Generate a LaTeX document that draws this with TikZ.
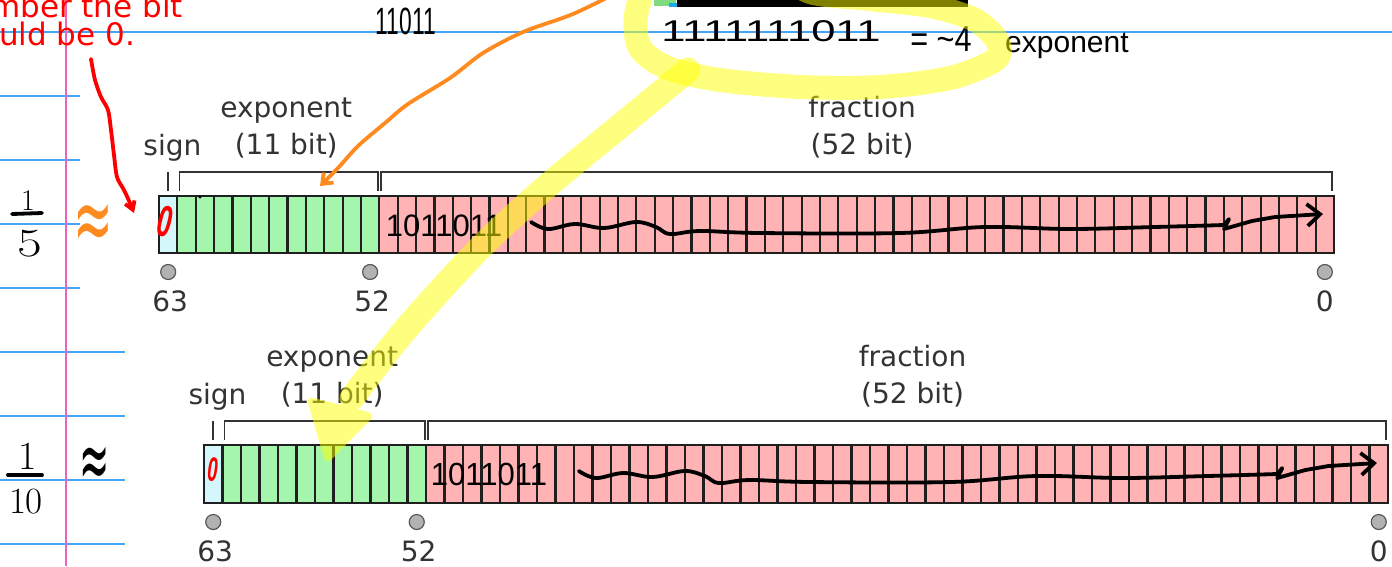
\documentclass[tikz,border=0pt]{standalone}
\usepackage{fontspec}
\newfontfamily\dv{DejaVu Sans}
\newfontfamily\hwf{Liberation Sans}
\usetikzlibrary{arrows.meta}
\newcommand\fsz[1]{\fontsize{#1}{#1}\selectfont}
\definecolor{signc}{HTML}{D4F7FC}
\definecolor{expc}{HTML}{A4F6AC}
\definecolor{fracc}{HTML}{FFB3B5}
\definecolor{lblc}{HTML}{333333}
\definecolor{ruleblue}{HTML}{45A5F5}
\definecolor{marginpink}{HTML}{F062C0}
\definecolor{penorange}{HTML}{FF8A1F}
\definecolor{hl}{HTML}{FFFF00}
\definecolor{topgreen}{HTML}{7EDC7E}
\definecolor{topcyan}{HTML}{1AA8F0}
\tikzset{
 cellsep/.style={draw=black!88, line width=2.2pt},
 brk/.style={draw=lblc, line width=1.7pt},
 lbl/.style={font=\dv\fsz{28}, text=lblc, inner sep=0pt},
 bitdot/.style={circle, minimum size=15pt, inner sep=0pt, fill=black!30, draw=black!65, line width=1.2pt},
 ruleline/.style={draw=ruleblue, line width=1.4pt},
 hw/.style={inner sep=0pt, text=black},
 ink/.style={line width=3.8pt, line cap=round, line join=round},
 hlpen/.style={draw=hl, line width=24pt, line cap=round, line join=round},
}
\newcommand\doublefmt[5]{%
\begin{scope}[shift={(#2,#3)}]
\fill[signc] (0,0) rectangle (#4,#5);
\fill[expc] (#4,0) rectangle ({12*#4},#5);
\fill[fracc] ({12*#4},0) rectangle ({64*#4},#5);
\foreach \k in {1,...,63}{\draw[cellsep] ({\k*#4},0) -- ({\k*#4},#5);}
\draw[cellsep] (0,0) rectangle ({64*#4},#5);
\draw[brk] ({0.5*#4},-24) -- ({0.5*#4},-5);
\draw[brk] ({#4+2},-5) |- ({12*#4-1},-24) -- ({12*#4-1},-5);
\draw[brk] ({12*#4+2},-5) |- ({64*#4-2},-24) -- ({64*#4-2},-5);
\node[lbl,anchor=base] (#1sign) at ({0.73*#4},-41) {sign};
\node[lbl,anchor=base] (#1exp) at ({6.93*#4},-79) {exponent};
\node[lbl,anchor=base] (#1expw) at ({6.93*#4},-42) {(11 bit)};
\node[lbl,anchor=base] (#1frac) at ({38.3*#4},-79) {fraction};
\node[lbl,anchor=base] (#1fracw) at ({38.3*#4},-42) {(52 bit)};
\node[bitdot] (#1d63) at ({0.5*#4},{#5+19}) {};
\node[bitdot] (#1d52) at ({11.5*#4},{#5+19}) {};
\node[bitdot] (#1d0) at ({63.5*#4},{#5+19}) {};
\node[lbl,anchor=base] (#1n63) at ({0.5*#4+2},{#5+58}) {63};
\node[lbl,anchor=base] (#1n52) at ({11.5*#4+2},{#5+58}) {52};
\node[lbl,anchor=base] (#1n0) at ({63.5*#4},{#5+58}) {0};
\end{scope}}
\newcommand\squig{%
\draw[ink, -{Straight Barb[length=13pt,width=22pt]}] plot[smooth, tension=0.6] coordinates {(531,222) (548,229) (575,224) (604,228) (636,222) (656,227) (670,234) (700,231) (760,233) (900,233) (985,227) (1070,229) (1155,227) (1224,225)} -- (1229,219) -- (1224,229) -- (1252,221) -- (1275,217) -- (1323,214);}
\begin{document}
\begin{tikzpicture}[x=1pt,y=-1pt]
\useasboundingbox (0,0) rectangle (1392,566);
\clip (0,0) rectangle (1392,566);
\fill[white] (0,0) rectangle (1392,566);
% notebook rules
\draw[ruleline] (0,32) -- (1392,32);
\foreach \yy in {96,160,224,288} \draw[ruleline] (0,\yy) -- (80,\yy);
\foreach \yy in {352,416,480,544} \draw[ruleline] (0,\yy) -- (125,\yy);
\draw[draw=marginpink, line width=2.2pt] (66,0) -- (66,566);
% cropped strip at top
\fill[topgreen] (654,0) rectangle (676,6);
\fill[topcyan] (669,3) rectangle (678,7);
\fill[black] (677,0) rectangle (968,7);
% diagrams
\doublefmt{u}{159}{196}{18.36}{57}
\doublefmt{l}{204}{445}{18.5}{58}
\fill (200,197) circle (1.6);
% red note
\node[anchor=base west, inner sep=0pt, text=red, font=\dv\fsz{31}] (note1) at (-10,17) {mber the bit};
\node[anchor=base west, inner sep=0pt, text=red, font=\dv\fsz{31}] (note2) at (-1,45) {uld be 0.};
\draw[ink, red, -{Straight Barb[length=8pt,width=10pt]}] plot[smooth] coordinates {(91,59) (95,80) (101,97) (108,110) (111,130) (114,155) (117,177) (124,190) (130,203) (134,213)};
% orange arrow
\draw[ink, penorange, -{Straight Barb[length=9pt,width=14pt]}] plot[smooth] coordinates {(618,-8) (573,14) (523,32) (483,53) (450,78) (408,104) (385,123) (358,146) (338,168) (320,186)};
% handwriting
\node[hw, font=\hwf\fsz{38}] (h11011) at (406,21) {\scalebox{0.6}[1]{11011}};
\node[hw, font=\hwf\fsz{30}] (hexpbits) at (771,31) {\scalebox{1.45}[1]{1111111011}};
\node[hw, font=\hwf\fsz{36}] (hminus4) at (941,39) {\scalebox{0.85}[1]{= \textasciitilde 4}};
\node[hw, font=\hwf\fsz{30}, anchor=base west] (hexpword) at (1005,52) {exponent};
\node[hw, font=\hwf\fsz{31}] (hfracu) at (444,226) {1011011};
\node[hw, font=\hwf\fsz{32}] (hfracl) at (489,474) {\scalebox{0.97}[1]{1011011}};
\node[hw, text=red, font=\hwf\bfseries\fsz{44}, rotate=-14] (uzero) at (165,222) {\scalebox{0.6}[1]{0}};
\node[hw, text=red, font=\hwf\bfseries\fsz{34}, rotate=-8] (lzero) at (213,470) {\scalebox{0.55}[1]{0}};
\node[hw, font=\rmfamily\fsz{30}] (fa1) at (28,201) {1};
\draw[ink] (12,214) -- (42,213);
\node[hw, font=\rmfamily\fsz{40}] (fa5) at (30,244) {\scalebox{1.35}[1]{5}};
\node[hw, font=\rmfamily\fsz{40}] (fb1) at (28,456) {1};
\draw[ink] (8,475) -- (42,475);
\node[hw, font=\rmfamily\fsz{37}] (fb10) at (26,502) {10};
\node[hw, text=penorange, font=\dv\fsz{50}] (apx1) at (93,228) {\scalebox{0.95}[1.9]{≈}};
\node[hw, font=\dv\fsz{38}] (apx2) at (95,468) {\scalebox{0.95}[2.2]{≈}};
% squiggle arrows
\squig
\begin{scope}[shift={(204,445)}, xscale=1.0077, shift={(-159,-196)}]
\squig
\end{scope}
% highlighter
\begin{scope}[transparency group, opacity=0.5]
\draw[hlpen] plot[smooth] coordinates {(650,-30) (636,15) (640,48) (668,68) (720,80) (800,87) (880,87) (950,78) (995,60) (998,42) (975,20) (930,6) (870,-1) (810,-8) (780,-30)};
\end{scope}
\begin{scope}[transparency group, opacity=0.5]
\draw[hlpen, line width=25pt] plot[smooth] coordinates {(688,70) (625,122) (545,188) (478,250) (405,330) (352,398)};
\fill[hl, rounded corners=8pt] (306,396) -- (376,414) -- (326,465) -- cycle;
\end{scope}
\end{tikzpicture}
\end{document}
